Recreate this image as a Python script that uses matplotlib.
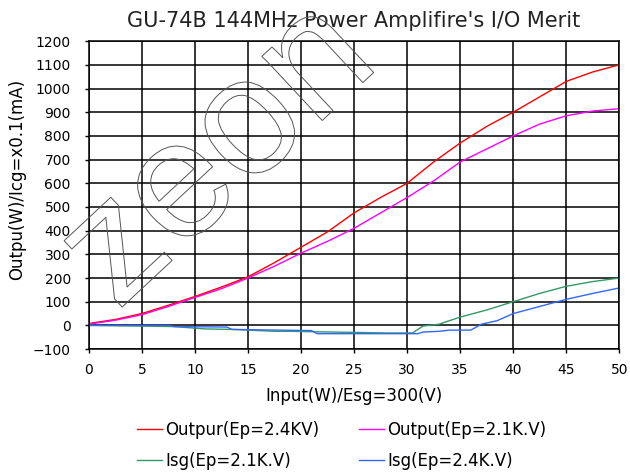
import numpy as np
import matplotlib
matplotlib.use('Agg')
import matplotlib.pyplot as plt
import matplotlib.patheffects as pe

plt.rcParams['font.family'] = ['DejaVu Sans']

# input power (W)
x_out = [0, 2.5, 5, 7.5, 10, 12.5, 15, 17.5, 20, 22.5, 25, 27.5, 30,
         32.5, 35, 37.5, 40, 42.5, 45, 47.5, 50]
out_24 = [8, 25, 50, 85, 122, 162, 205, 265, 330, 395, 475, 540, 600,
          690, 770, 840, 900, 965, 1030, 1070, 1100]
out_21 = [5, 22, 45, 80, 118, 155, 200, 250, 305, 355, 410, 475, 540,
          610, 690, 745, 800, 850, 885, 905, 915]

x_isg21 = [0, 8, 11, 13.5, 17.5, 19, 28, 30.5, 31.5, 33, 35, 37.5, 40,
           42.5, 45, 47.5, 50]
isg_21 = [0, -5, -15, -17, -25, -25, -32, -32, -3, 5, 35, 65, 100,
          135, 165, 185, 200]

x_isg24 = [0, 7.5, 8, 13, 13.5, 21, 21.5, 31, 31.5, 33, 34, 36, 37,
           38.5, 40, 42.5, 45, 47.5, 50]
isg_24 = [0, 0, -5, -7, -17, -22, -35, -35, -28, -25, -20, -20, 5,
          20, 50, 80, 110, 135, 158]

fig = plt.figure(figsize=(6.3, 4.73), dpi=100)
ax = fig.add_axes([0.141, 0.262, 0.842, 0.651])

l1, = ax.plot(x_out, out_24, color='#ff0000', lw=1, label='Outpur(Ep=2.4KV)')
l2, = ax.plot(x_out, out_21, color='#ff00ff', lw=1, label='Output(Ep=2.1K.V)')
l3, = ax.plot(x_isg21, isg_21, color='#339966', lw=1, label='Isg(Ep=2.1K.V)')
l4, = ax.plot(x_isg24, isg_24, color='#3366ff', lw=1, label='Isg(Ep=2.4K.V)')

ax.set_xlim(0, 50)
ax.set_ylim(-100, 1200)
ax.set_xticks(np.arange(0, 51, 5))
ax.set_yticks(np.arange(-100, 1201, 100))
ax.grid(True, color='black', lw=1.1)
ax.set_axisbelow(True)
for s in ax.spines.values():
    s.set_linewidth(1.1)
ax.tick_params(labelsize=10, length=3, width=1)
ax.tick_params(axis='y', pad=10)
ax.tick_params(axis='x', pad=7)

ax.set_title("GU-74B 144MHz Power Amplifire's I/O Merit", fontsize=15,
             pad=10, color='#222222')
ax.set_xlabel('Input(W)/Esg=300(V)', fontsize=12, labelpad=7)
ax.set_ylabel('Outpu(W)/Icg=x0.1(mA)', fontsize=12)
ax.yaxis.set_label_coords(-0.118, 0.55)

fig.legend([l1, l3, l2, l4], [h.get_label() for h in (l1, l3, l2, l4)],
           loc='upper left', bbox_to_anchor=(137 / 630, 1 - 421 / 473), ncol=2,
           frameon=False, fontsize=12, handlelength=1.5, handletextpad=0.2,
           columnspacing=2.35, labelspacing=0.75, borderpad=0, borderaxespad=0)

# watermark
fig.text(220 / 630, 1 - 157 / 473, 'zeon', rotation=43, fontsize=120,
         ha='center', va='center', color='none',
         path_effects=[pe.Stroke(linewidth=0.7, foreground='#555555')],
         family='Liberation Sans')

fig.savefig('out.png', dpi=100)
